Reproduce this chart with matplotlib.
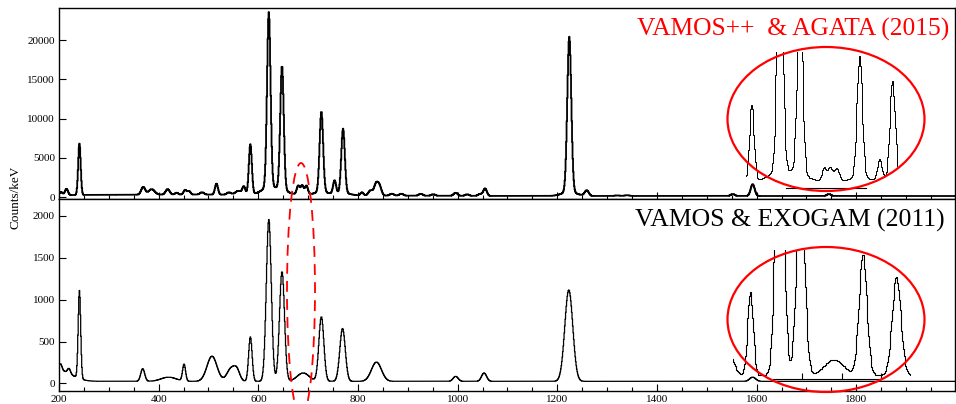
import numpy as np
import matplotlib
matplotlib.use("Agg")
from matplotlib import pyplot as plt
from matplotlib.patches import Ellipse
from matplotlib.ticker import MultipleLocator

plt.rcParams['font.family'] = ['Liberation Serif', 'DejaVu Serif']

# peak lists: centroid (keV), height (counts/keV), sigma (keV)
agata_E = [204, 215, 241, 369, 386, 418, 436, 453, 461, 487, 516, 541, 560, 571, 584,
           621, 621, 647.5, 647.5, 680, 688, 696.5, 726.5, 726.5, 753, 770, 770,
           808, 825, 836, 843, 868, 887, 926, 951, 996, 1019, 1045, 1055,
           1224, 1224, 1259, 1320, 1340, 1552, 1592, 1745]
agata_h = [400, 800, 6550, 980, 700, 700, 250, 600, 450, 300, 1400, 300, 500, 1000, 6400,
           22300, 900, 15800, 500, 1150, 1200, 1150, 10300, 400, 1700, 8200, 300,
           400, 650, 1400, 1200, 250, 250, 250, 200, 400, 200, 250, 950,
           19800, 500, 700, 80, 100, 250, 1500, 250]
agata_s = [3, 3, 2.5, 4, 6, 4, 3, 3, 3, 4, 3, 4, 6, 3, 3,
           3.5, 15, 3.5, 15, 3, 3, 3, 3.5, 15, 3, 3.5, 14,
           3, 4, 4, 4, 4, 4, 4, 4, 4, 4, 4, 3.5,
           4, 15, 4, 5, 5, 4, 4, 4]
agata_bg = [130, 180, 450, 250]   # flat level, broad bump height, centre, width

exogam_E = [200, 203, 220, 241, 368, 420, 451, 507, 545, 557, 584, 621, 647.5,
            690, 726.5, 769, 837, 996, 1053, 1223, 1592]
exogam_h = [130, 80, 60, 1050, 150, 50, 200, 300, 150, 120, 530, 1930, 1310,
            100, 770, 630, 230, 60, 100, 1090, 50]
exogam_s = [25, 3, 3, 2.5, 4, 15, 3, 10, 8, 6, 3.5, 5, 5,
            12, 5, 5.5, 10, 5, 5, 8, 6]
exogam_bg = [25, 0, 200, 100]

labels_top = "VAMOS++  & AGATA (2015)"
labels_bot = "VAMOS & EXOGAM (2011)"

W, H = 956, 404
energy = np.arange(200, 2000, 1.0)


def spectrum(E, h, s, bg):
    y = bg[0] + bg[1] * np.exp(-0.5 * ((energy - bg[2]) / bg[3]) ** 2)
    for e, a, w in zip(E, h, s):
        y = y + a * np.exp(-0.5 * ((energy - e) / w) ** 2)
    return y


top_counts = spectrum(agata_E, agata_h, agata_s, agata_bg)
bot_counts = spectrum(exogam_E, exogam_h, exogam_s, exogam_bg)


def fbox(x0, y0, x1, y1):
    # pixel box (top-left origin) -> figure fraction rect
    return [x0 / W, 1 - y1 / H, (x1 - x0) / W, (y1 - y0) / H]


fig = plt.figure(figsize=(W / 100, H / 100), dpi=100)
ax1 = fig.add_axes(fbox(59, 8, 954.5, 199))
ax2 = fig.add_axes(fbox(59, 199, 954.5, 391), sharex=ax1)

ax1.plot(energy, top_counts, drawstyle='steps-mid', color='black', lw=1.3)
ax2.plot(energy, bot_counts, drawstyle='steps-mid', color='black', lw=0.9)

ax1.set_xlim(200, 1997)
ax1.set_ylim(-250, 24100)
ax2.set_ylim(-90, 2200)
ax1.yaxis.set_major_locator(MultipleLocator(5000))
ax2.yaxis.set_major_locator(MultipleLocator(500))
ax2.xaxis.set_major_locator(MultipleLocator(200))
ax2.xaxis.set_minor_locator(MultipleLocator(50))

for ax in (ax1, ax2):
    ax.tick_params(which='both', direction='in', labelsize=8, pad=3, width=0.8)
    ax.tick_params(which='major', length=5)
    ax.tick_params(which='minor', length=3)
    for sp in ax.spines.values():
        sp.set_linewidth(1.0)
ax1.tick_params(labelbottom=False)

fig.text(16 / W, 1 - 197.5 / H, "Counts/keV", rotation=90, ha='center', va='center',
         fontsize=9.5)
fig.text(637 / W, 1 - 36 / H, labels_top, color='red', fontsize=18.4, ha='left',
         va='baseline')
fig.text(635 / W, 1 - 227 / H, labels_bot, color='black', fontsize=18.5, ha='left',
         va='baseline')

# zoomed views inside the ellipses
in1 = fig.add_axes(fbox(746.3, 52, 898.4, 188))
in1.plot(energy, top_counts, drawstyle='steps-mid', color='black', lw=0.7)
in1.set_xlim(577, 778)
in1.set_ylim(-252, 11170)
in2 = fig.add_axes(fbox(732.8, 250, 910.5, 382))
in2.plot(energy, bot_counts, drawstyle='steps-mid', color='black', lw=0.8)
in2.set_xlim(562, 787)
in2.set_ylim(-19, 826)
for ax in (in1, in2):
    ax.patch.set_visible(False)
    for k in ('top', 'left', 'right'):
        ax.spines[k].set_visible(False)
    ax.set_yticks([])
    ax.spines['bottom'].set_linewidth(0.8)
in1.set_xticks([])
in1.spines['bottom'].set_bounds(630, 735)
in2.spines['bottom'].set_position(('data', 0))
in2.spines['bottom'].set_bounds(613, 750)
in2.set_xticks([650, 700, 750])
in2.tick_params(direction='in', length=4, width=0.8, labelbottom=False)

ell_kw = dict(transform=fig.transFigure, fill=False, edgecolor='red')
fig.add_artist(Ellipse((826 / W, 1 - 119 / H), 197 / W, 144 / H, lw=1.6, **ell_kw))
fig.add_artist(Ellipse((826 / W, 1 - 319.5 / H), 197 / W, 145 / H, lw=1.6, **ell_kw))
fig.add_artist(Ellipse((301 / W, 1 - 290 / H), 28 / W, 254 / H, lw=1.3,
                       linestyle=(0, (6, 4)), **ell_kw))

fig.savefig("out.png", dpi=100)
